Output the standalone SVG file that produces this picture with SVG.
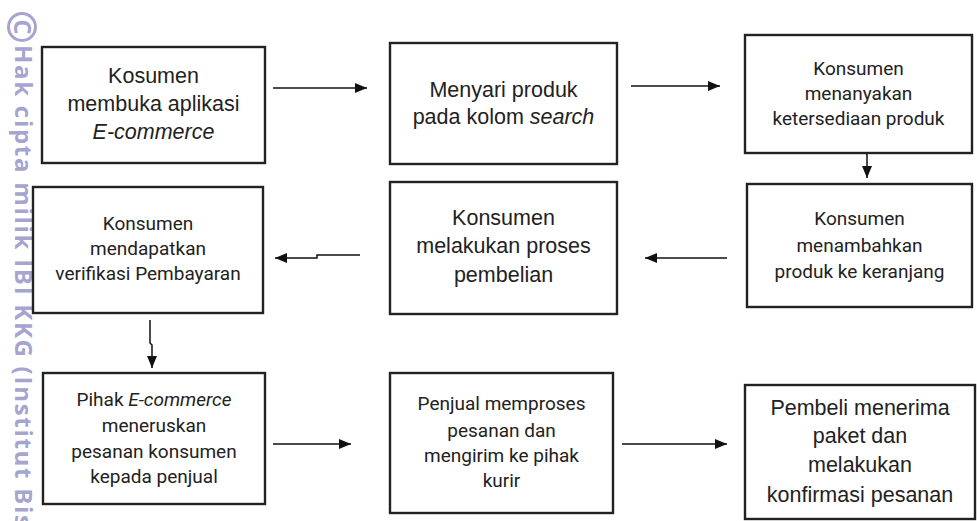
<svg xmlns="http://www.w3.org/2000/svg" width="977" height="521" viewBox="0 0 977 521">
<style>
.box{fill:#fff;stroke:#222;stroke-width:2.4}
.a{font-family:"Liberation Sans",Arial,sans-serif;font-size:21.5px;fill:#222;text-anchor:middle}
.r{font-family:Roboto,"Liberation Sans",sans-serif;font-size:19px;fill:#222;text-anchor:middle}
.conn{fill:none;stroke:#111;stroke-width:1.5}
.wm{font-family:"Open Sans","DejaVu Sans",sans-serif;font-weight:bold;fill:#a5a5cf}
</style>
<defs>
<marker id="arr" markerUnits="userSpaceOnUse" markerWidth="14" markerHeight="12" refX="12" refY="5" orient="auto">
<path d="M0,0 L12,5 L0,10 z" fill="#111"/>
</marker>
</defs>
<rect width="977" height="521" fill="#fff"/>
<g id="watermark">
<circle cx="22" cy="27" r="13.5" fill="none" stroke="#a5a5cf" stroke-width="3"/>
<text class="wm" font-size="24" transform="translate(14,27) rotate(90)" text-anchor="middle">C</text>
<text class="wm" font-size="24" transform="translate(15,45) rotate(90)" textLength="482" lengthAdjust="spacing">Hak cipta milik IBI KKG (Institut Bis</text>
</g>
<g id="connectors">
<path class="conn" d="M273,88 H367" marker-end="url(#arr)"/>
<path class="conn" d="M631,86 H720" marker-end="url(#arr)"/>
<path class="conn" d="M866,130 V153 L867,155 V178" marker-end="url(#arr)"/>
<path class="conn" d="M727,258 H645" marker-end="url(#arr)"/>
<path class="conn" d="M360,255 H317 V258 H275" marker-end="url(#arr)"/>
<path class="conn" d="M150,320 V343 L152,345 V368" marker-end="url(#arr)"/>
<path class="conn" d="M273,444 H351" marker-end="url(#arr)"/>
<path class="conn" d="M622,444 H727" marker-end="url(#arr)"/>
</g>
<g id="n1">
<rect class="box" x="42" y="47" width="223" height="116"/>
<text class="a" x="153.5" y="83">Kosumen</text>
<text class="a" x="153.5" y="111">membuka aplikasi</text>
<text class="a" x="153.5" y="139" font-style="italic">E-commerce</text>
</g>
<g id="n2">
<rect class="box" x="390" y="43" width="227" height="121"/>
<text class="a" x="503.5" y="97">Menyari produk</text>
<text class="a" x="503.5" y="124">pada kolom <tspan font-style="italic">search</tspan></text>
</g>
<g id="n3">
<rect class="box" x="745" y="35" width="227" height="118"/>
<text class="r" x="858.5" y="75">Konsumen</text>
<text class="r" x="858.5" y="100">menanyakan</text>
<text class="r" x="858.5" y="125">ketersediaan produk</text>
</g>
<g id="n4">
<rect class="box" x="747" y="184" width="225" height="123"/>
<text class="r" x="859.5" y="225">Konsumen</text>
<text class="r" x="859.5" y="252">menambahkan</text>
<text class="r" x="859.5" y="278">produk ke keranjang</text>
</g>
<g id="n5">
<rect class="box" x="390" y="182" width="227" height="132"/>
<text class="a" x="503.5" y="225">Konsumen</text>
<text class="a" x="503.5" y="253">melakukan proses</text>
<text class="a" x="503.5" y="282">pembelian</text>
</g>
<g id="n6">
<rect class="box" x="33" y="187" width="230" height="126"/>
<text class="r" x="148" y="230">Konsumen</text>
<text class="r" x="148" y="255">mendapatkan</text>
<text class="r" x="148" y="280">verifikasi Pembayaran</text>
</g>
<g id="n7">
<rect class="box" x="43" y="373" width="222" height="131"/>
<text class="r" x="154" y="406">Pihak <tspan font-style="italic">E-commerce</tspan></text>
<text class="r" x="154" y="432">meneruskan</text>
<text class="r" x="154" y="458">pesanan konsumen</text>
<text class="r" x="154" y="483">kepada penjual</text>
</g>
<g id="n8">
<rect class="box" x="390" y="373" width="223" height="140"/>
<text class="r" x="501.5" y="410">Penjual memproses</text>
<text class="r" x="501.5" y="437">pesanan dan</text>
<text class="r" x="501.5" y="462">mengirim ke pihak</text>
<text class="r" x="501.5" y="487">kurir</text>
</g>
<g id="n9">
<rect class="box" x="745" y="385" width="230" height="134"/>
<text class="a" x="860" y="415">Pembeli menerima</text>
<text class="a" x="860" y="443">paket dan</text>
<text class="a" x="860" y="472">melakukan</text>
<text class="a" x="860" y="502">konfirmasi pesanan</text>
</g>
</svg>
